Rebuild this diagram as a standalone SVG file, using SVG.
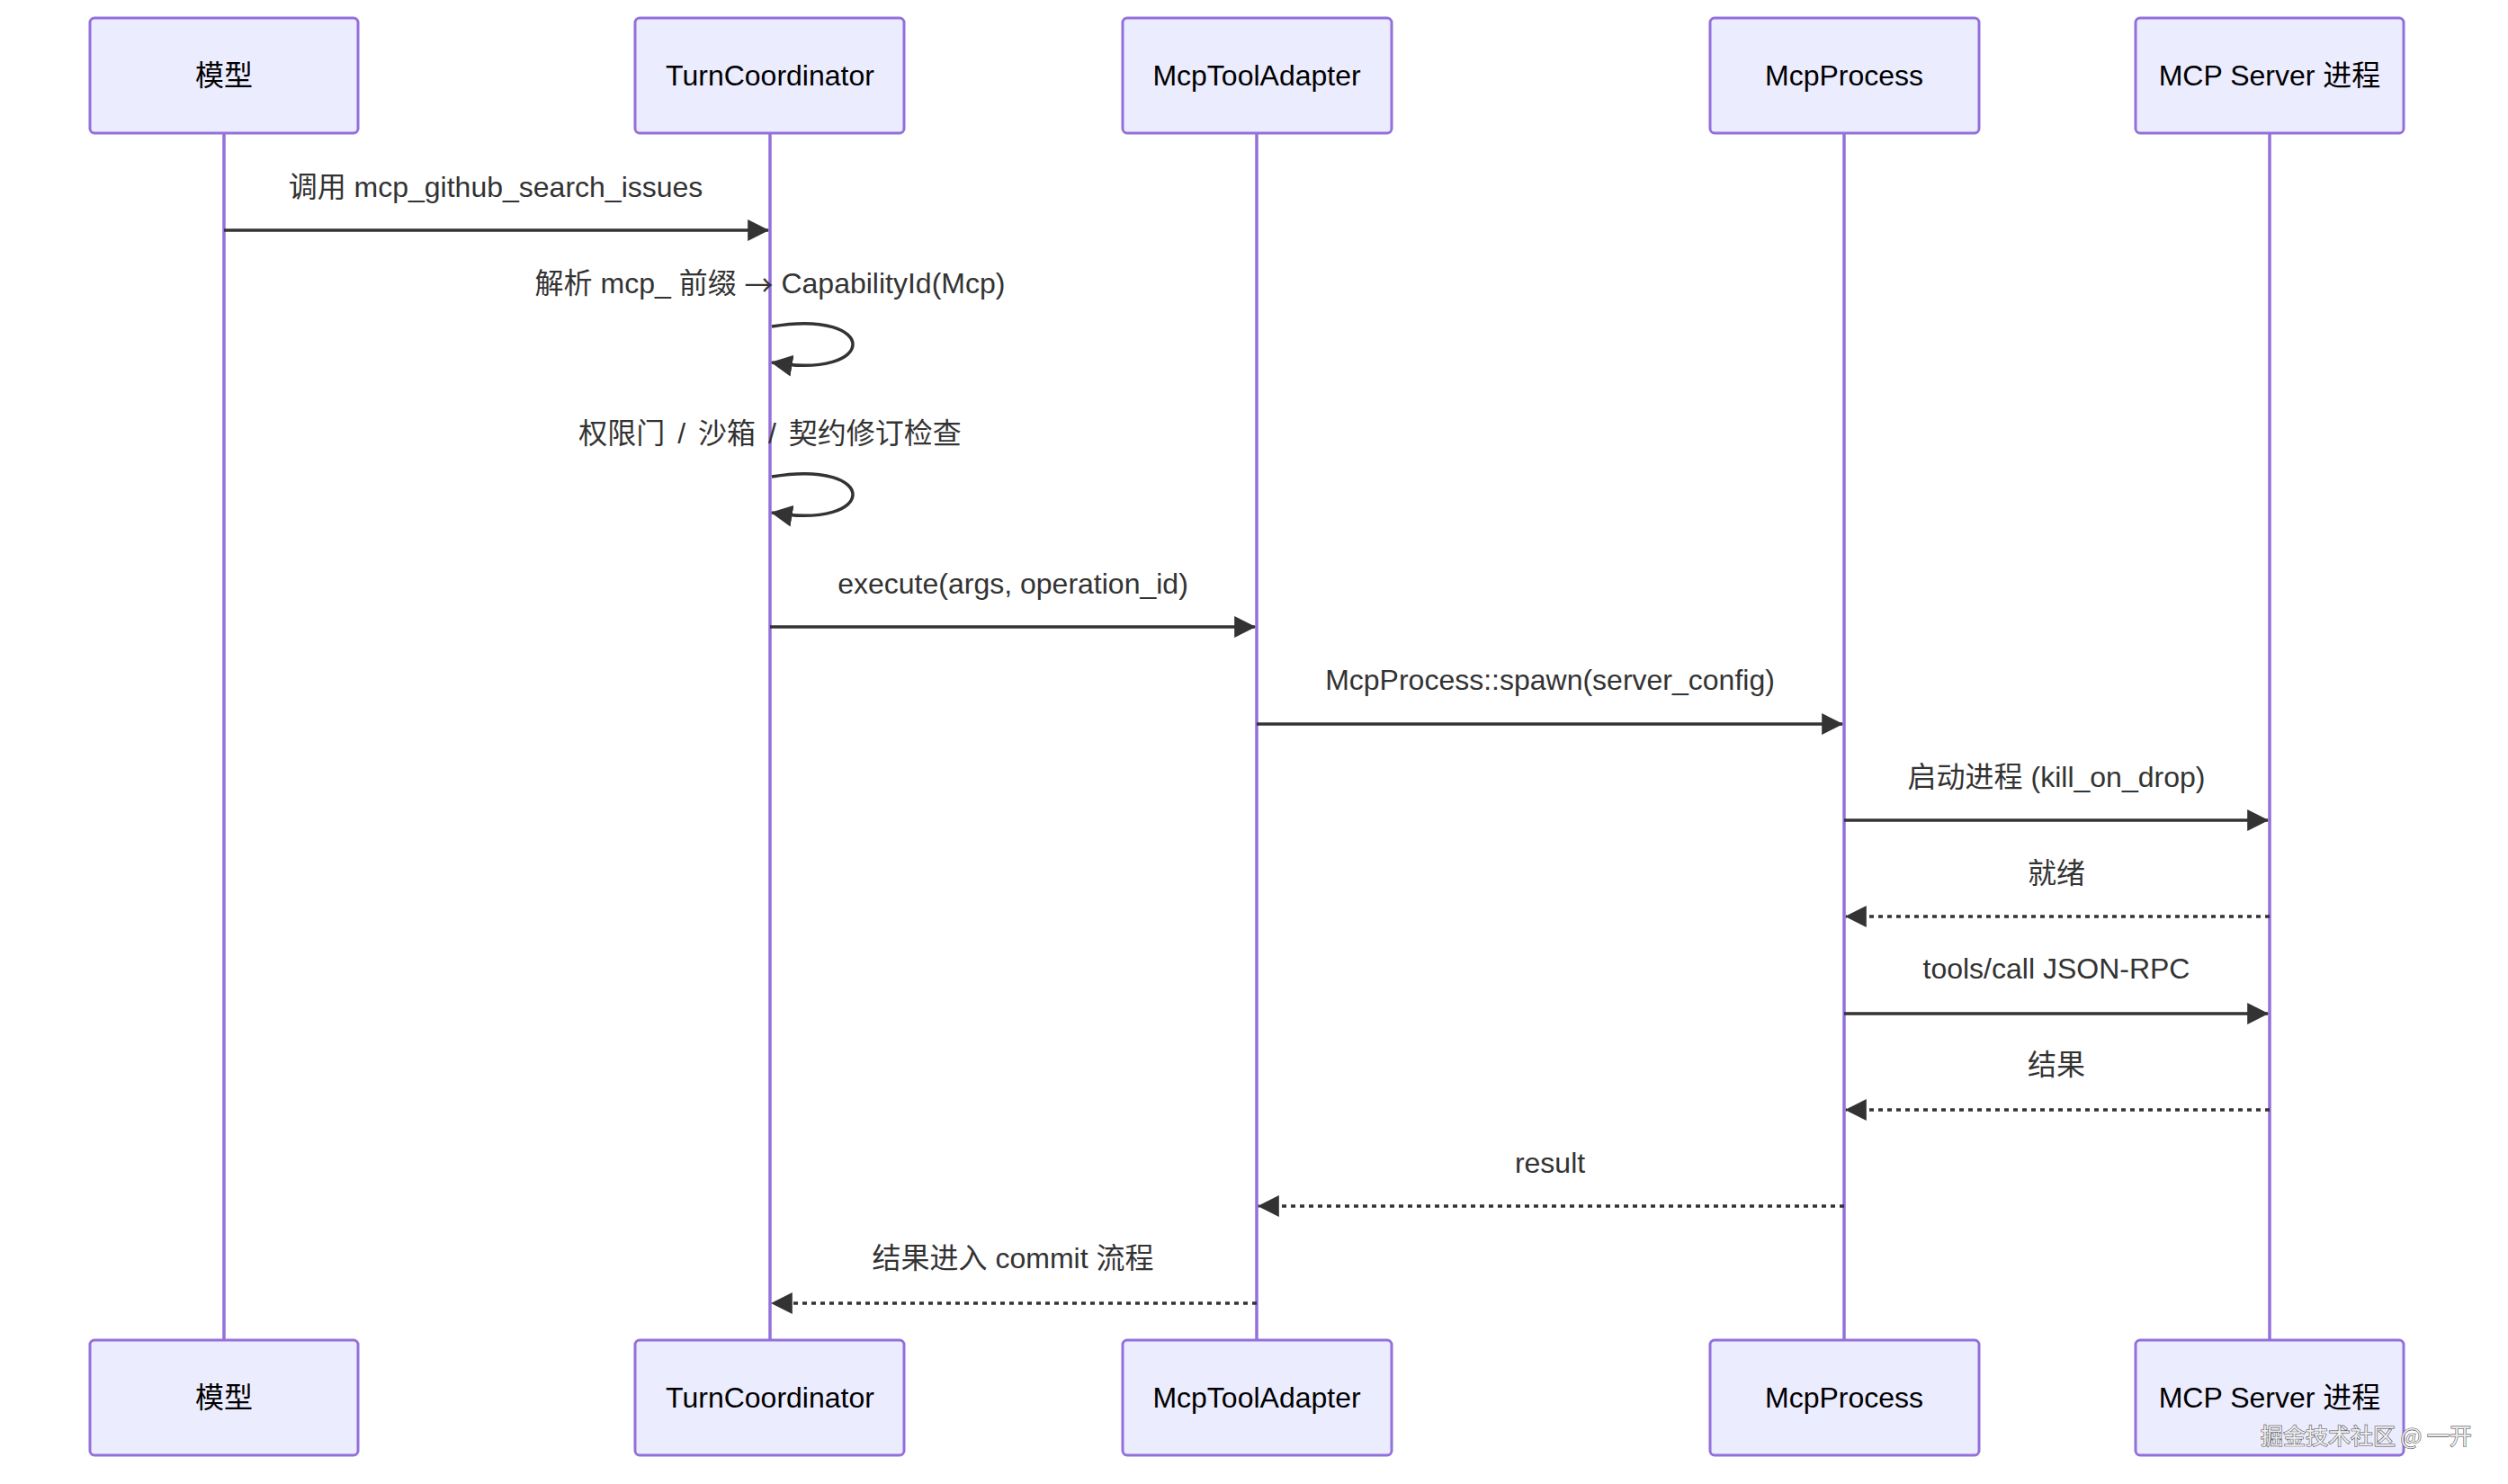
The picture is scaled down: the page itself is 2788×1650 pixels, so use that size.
<svg xmlns="http://www.w3.org/2000/svg" width="2788" height="1650" viewBox="0 0 2788 1650">
<style>
.actor rect{fill:#ECECFF;stroke:#9370DB;stroke-width:3}
.actor text{font-family:"Liberation Sans","Noto Sans CJK SC",sans-serif;font-size:32px;fill:#000;text-anchor:middle;dominant-baseline:central}
.life{stroke:#9370DB;stroke-width:3.5}
.msg{stroke:#333;stroke-width:3.5;fill:none}
.dash{stroke-dasharray:5,5}
.lbl{font-family:"Liberation Sans","Noto Sans CJK SC",sans-serif;font-size:32px;fill:#333;text-anchor:middle;dominant-baseline:central}
.cjk{font-family:"Noto Sans CJK SC",sans-serif}
.wm{font-family:"Noto Sans CJK SC",sans-serif;font-size:25px;fill:#eeeeee;stroke:#555;stroke-width:1.2;paint-order:stroke}
</style>
<defs>
<marker id="ah" markerUnits="userSpaceOnUse" markerWidth="24" markerHeight="24" viewBox="0 0 20 20" refX="19" refY="10" orient="auto">
<path d="M0,0 L20,10 L0,20 z" fill="#333"/>
</marker>
</defs>
<rect width="2788" height="1650" fill="#fff"/>
<g id="lifelines">
<line class="life" x1="249" y1="148" x2="249" y2="1490"/>
<line class="life" x1="856" y1="148" x2="856" y2="1490"/>
<line class="life" x1="1397" y1="148" x2="1397" y2="1490"/>
<line class="life" x1="2050" y1="148" x2="2050" y2="1490"/>
<line class="life" x1="2523" y1="148" x2="2523" y2="1490"/>
</g>
<g id="actor-model" class="actor">
<rect x="100" y="20" width="298" height="128" rx="5"/><text x="249" y="84">模型</text>
<rect x="100" y="1490" width="298" height="128" rx="5"/><text x="249" y="1554">模型</text>
</g>
<g id="actor-turn" class="actor">
<rect x="706" y="20" width="299" height="128" rx="5"/><text x="856" y="84">TurnCoordinator</text>
<rect x="706" y="1490" width="299" height="128" rx="5"/><text x="856" y="1554">TurnCoordinator</text>
</g>
<g id="actor-adapter" class="actor">
<rect x="1248" y="20" width="299" height="128" rx="5"/><text x="1397" y="84">McpToolAdapter</text>
<rect x="1248" y="1490" width="299" height="128" rx="5"/><text x="1397" y="1554">McpToolAdapter</text>
</g>
<g id="actor-process" class="actor">
<rect x="1901" y="20" width="299" height="128" rx="5"/><text x="2050" y="84">McpProcess</text>
<rect x="1901" y="1490" width="299" height="128" rx="5"/><text x="2050" y="1554">McpProcess</text>
</g>
<g id="actor-server" class="actor">
<rect x="2374" y="20" width="298" height="128" rx="5"/><text x="2523" y="84">MCP Server 进程</text>
<rect x="2374" y="1490" width="298" height="128" rx="5"/><text x="2523" y="1554">MCP Server 进程</text>
</g>
<g id="connectors">
<line class="msg" x1="249" y1="256" x2="854" y2="256" marker-end="url(#ah)"/>
<path class="msg" d="M858,363 C978,343 978,423 858,403" marker-end="url(#ah)"/>
<path class="msg" d="M858,530 C978,510 978,590 858,570" marker-end="url(#ah)"/>
<line class="msg" x1="856" y1="697" x2="1395" y2="697" marker-end="url(#ah)"/>
<line class="msg" x1="1397" y1="805" x2="2048" y2="805" marker-end="url(#ah)"/>
<line class="msg" x1="2050" y1="912" x2="2521" y2="912" marker-end="url(#ah)"/>
<line class="msg dash" x1="2523" y1="1019" x2="2052" y2="1019" marker-end="url(#ah)"/>
<line class="msg" x1="2050" y1="1127" x2="2521" y2="1127" marker-end="url(#ah)"/>
<line class="msg dash" x1="2523" y1="1234" x2="2052" y2="1234" marker-end="url(#ah)"/>
<line class="msg dash" x1="2050" y1="1341" x2="1399" y2="1341" marker-end="url(#ah)"/>
<line class="msg dash" x1="1397" y1="1449" x2="858" y2="1449" marker-end="url(#ah)"/>
</g>
<g id="labels">
<text class="lbl" x="551" y="208">调用 mcp_github_search_issues</text>
<text class="lbl" x="856" y="315">解析 mcp_ 前缀 <tspan class="cjk">→</tspan> CapabilityId(Mcp)</text>
<text class="lbl" x="856" y="482" style="word-spacing:5px">权限门 / 沙箱 / 契约修订检查</text>
<text class="lbl" x="1126" y="649">execute(args, operation_id)</text>
<text class="lbl" x="1723" y="756">McpProcess::spawn(server_config)</text>
<text class="lbl" x="2286" y="864">启动进程 (kill_on_drop)</text>
<text class="lbl" x="2286" y="971">就绪</text>
<text class="lbl" x="2286" y="1077">tools/call JSON-RPC</text>
<text class="lbl" x="2286" y="1184">结果</text>
<text class="lbl" x="1723" y="1293">result</text>
<text class="lbl" x="1126" y="1399">结果进入 commit 流程</text>
</g>
<text class="wm" x="2513" y="1606">掘金技术社区 @ 一开</text>
</svg>
